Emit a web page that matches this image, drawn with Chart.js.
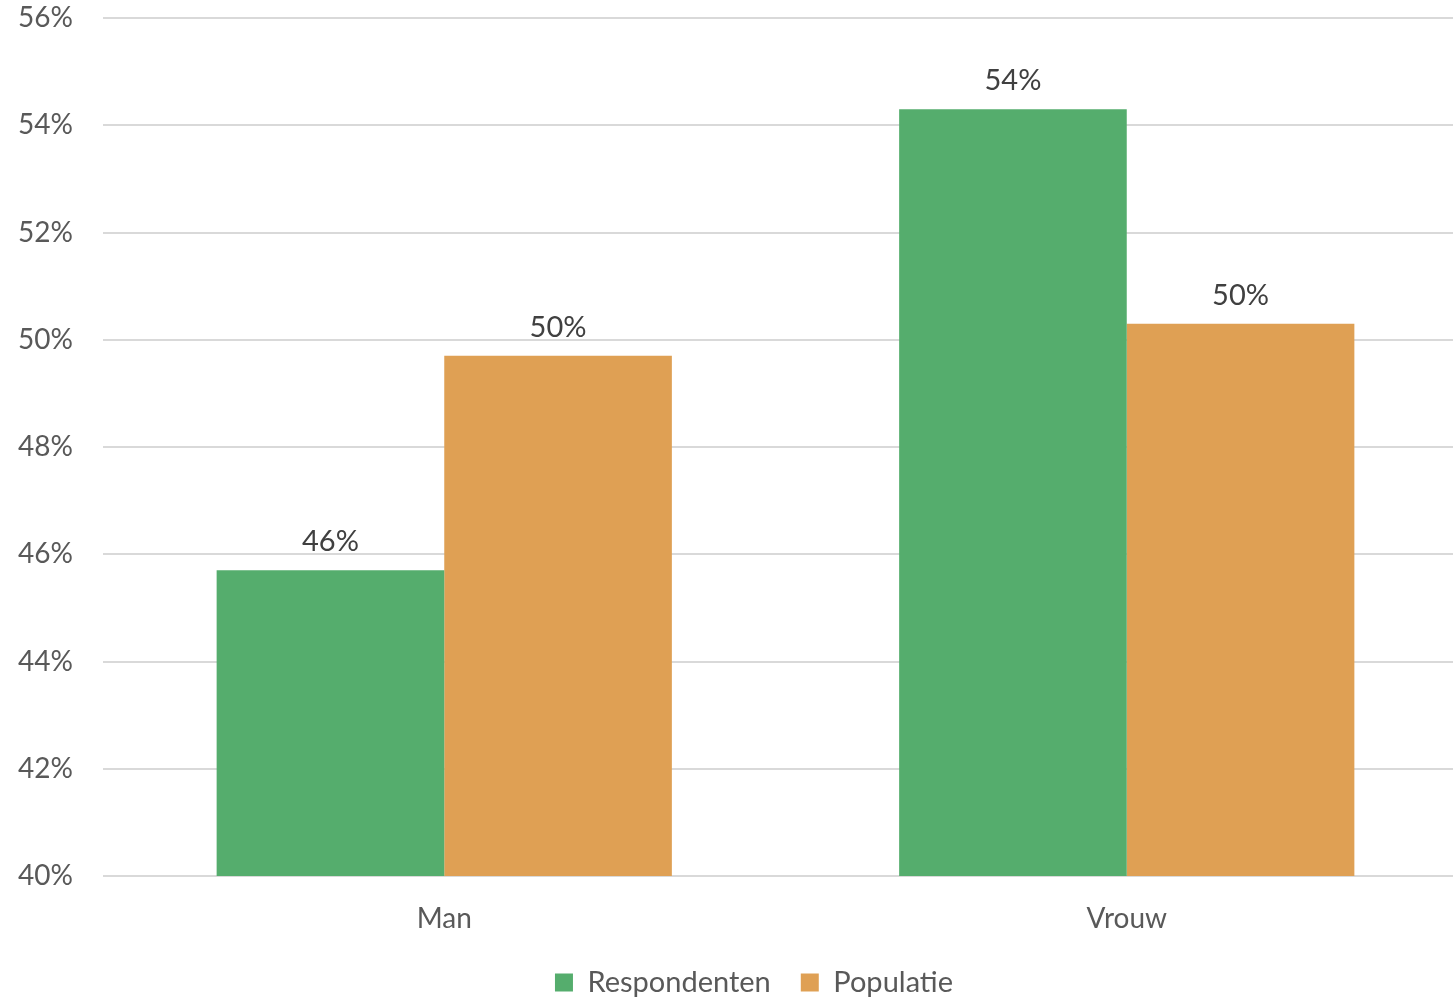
<!DOCTYPE html>
<html>
<head>
<meta charset="utf-8">
<script src="https://cdn.jsdelivr.net/npm/chart.js@4/dist/chart.umd.min.js"></script>
<style>
  html, body { margin: 0; padding: 0; background: #fff; overflow: hidden; }
  #chart { display: block; }
</style>
</head>
<body>
<!-- plot runs a bit past the right edge, as in the original -->
<canvas id="chart" width="1468" height="998"></canvas>
<script>
const categories = ['Man', 'Vrouw'];
const respondenten = [45.7, 54.3];
const populatie = [49.7, 50.3];
const yMin = 40;
const yMax = 56;
const yStep = 2;

const FONT = 'Lato, "Open Sans", sans-serif';

// draws the rounded value above each bar
const barLabels = {
  id: 'barLabels',
  afterDatasetsDraw(chart) {
    const ctx = chart.ctx;
    ctx.save();
    ctx.font = `29px ${FONT}`;
    ctx.fillStyle = '#404040';
    ctx.textAlign = 'center';
    ctx.textBaseline = 'bottom';
    chart.data.datasets.forEach((ds, i) => {
      chart.getDatasetMeta(i).data.forEach((bar, j) => {
        ctx.fillText(Math.round(ds.data[j]) + '%', bar.x, bar.y - 14);
      });
    });
    ctx.restore();
  }
};

// nudge the legend so it is centred like the original
const legendShift = {
  id: 'legendShift',
  afterLayout(chart) {
    if (chart.legend) chart.legend.left += 40;
  }
};

new Chart(document.getElementById('chart'), {
  type: 'bar',
  data: {
    labels: categories,
    datasets: [
      {
        label: 'Respondenten',
        data: respondenten,
        backgroundColor: '#55AD6D',
        categoryPercentage: 0.667,
        barPercentage: 1
      },
      {
        label: 'Populatie',
        data: populatie,
        backgroundColor: '#DFA054',
        categoryPercentage: 0.667,
        barPercentage: 1
      }
    ]
  },
  options: {
    responsive: false,
    animation: false,
    layout: { padding: { top: 18, right: 0, bottom: -9, left: 0 } },
    plugins: {
      tooltip: { enabled: false },
      legend: {
        position: 'bottom',
        labels: {
          color: '#595959',
          font: { family: FONT, size: 29 },
          boxWidth: 18,
          boxHeight: 18,
          padding: 30
        }
      }
    },
    scales: {
      x: {
        grid: { display: false },
        border: { display: false },
        ticks: { color: '#595959', font: { family: FONT, size: 28 }, padding: 18 },
        afterFit(scale) {
          scale.height = 62;
          scale.paddingLeft = 0;
          scale.paddingRight = 0;
        }
      },
      y: {
        min: yMin,
        max: yMax,
        ticks: {
          stepSize: yStep,
          color: '#595959',
          font: { family: FONT, size: 28 },
          padding: 30,
          callback: v => v + '%'
        },
        grid: { color: '#D9D9D9', lineWidth: 2, drawTicks: false },
        border: { display: false },
        afterFit(scale) {
          scale.width = 103;
          scale.paddingTop = 0;
          scale.paddingBottom = 0;
        }
      }
    }
  },
  plugins: [barLabels, legendShift]
});
</script>
</body>
</html>
